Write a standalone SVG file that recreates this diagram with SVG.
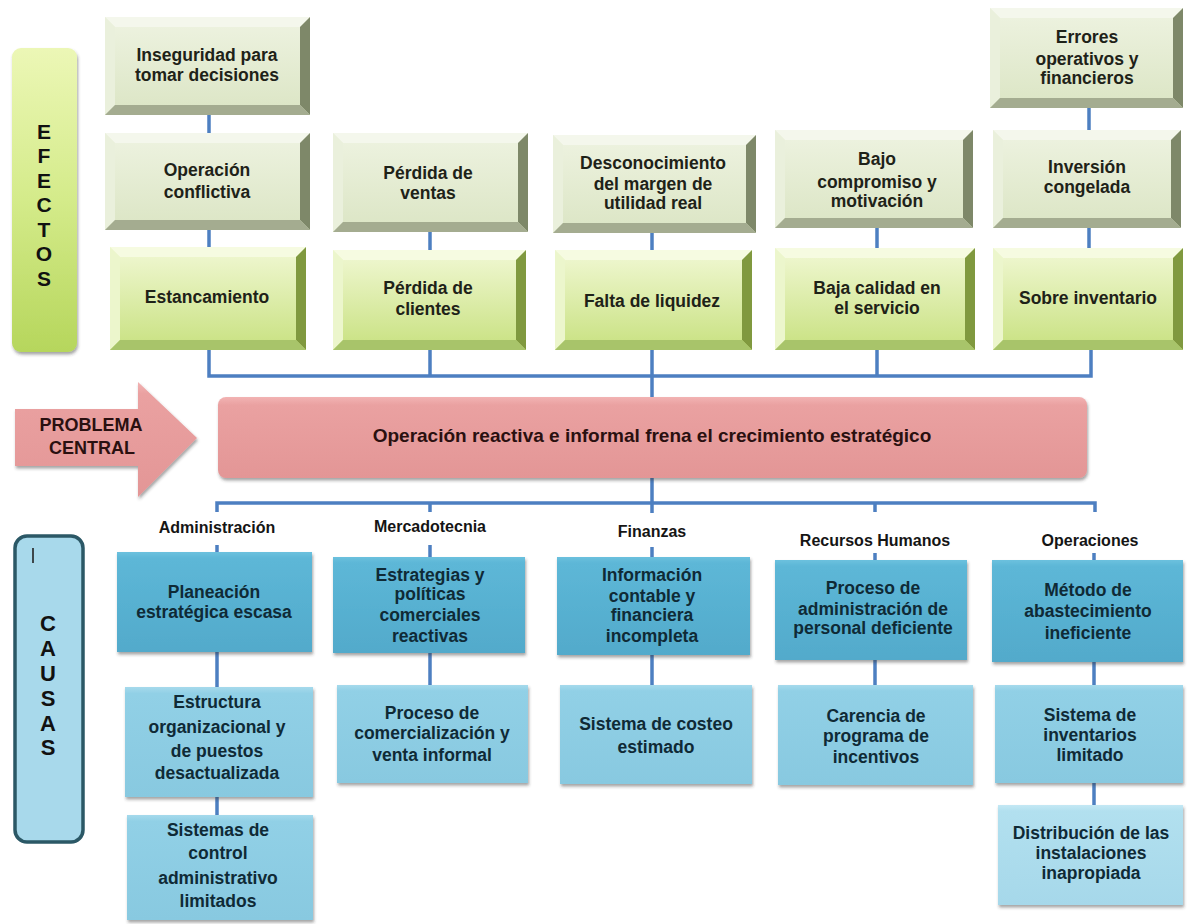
<svg xmlns="http://www.w3.org/2000/svg" width="1187" height="924" viewBox="0 0 1187 924">
<defs>
<linearGradient id="gPale" x1="0" y1="0" x2="0" y2="1"><stop offset="0" stop-color="#eef3e1"/><stop offset="1" stop-color="#dbe5c4"/></linearGradient>
<linearGradient id="gLime" x1="0" y1="0" x2="0" y2="1"><stop offset="0" stop-color="#f1f8d4"/><stop offset="1" stop-color="#c8e180"/></linearGradient>
<linearGradient id="gEfe" x1="0" y1="0" x2="0" y2="1"><stop offset="0" stop-color="#ecf7b6"/><stop offset="0.5" stop-color="#d4eb8a"/><stop offset="1" stop-color="#b6d65c"/></linearGradient>
<linearGradient id="gHead" x1="0" y1="0" x2="0" y2="1"><stop offset="0" stop-color="#6cc1de"/><stop offset="0.06" stop-color="#5db7d7"/><stop offset="1" stop-color="#52aacb"/></linearGradient>
<linearGradient id="gMid" x1="0" y1="0" x2="0" y2="1"><stop offset="0" stop-color="#a6daec"/><stop offset="0.06" stop-color="#91d0e6"/><stop offset="1" stop-color="#88c9e0"/></linearGradient>
<linearGradient id="gLight" x1="0" y1="0" x2="0" y2="1"><stop offset="0" stop-color="#c4e8f4"/><stop offset="0.06" stop-color="#b2e0ef"/><stop offset="1" stop-color="#a6d8ea"/></linearGradient>
<linearGradient id="gPink" x1="0" y1="0" x2="0" y2="1"><stop offset="0" stop-color="#f2b3b3"/><stop offset="0.1" stop-color="#eaa1a1"/><stop offset="1" stop-color="#e39696"/></linearGradient>
<filter id="sh" x="-10%" y="-10%" width="120%" height="130%"><feDropShadow dx="1" dy="2.5" stdDeviation="1.5" flood-color="#333" flood-opacity="0.45"/></filter>
</defs>
<style>
.t{font-family:"Liberation Sans",Arial,Helvetica,sans-serif;font-weight:bold;text-anchor:middle;}
.et{font-size:17.5px;fill:#1e2218;}
.ct{font-size:17.5px;fill:#0f2a36;}
.lb{font-size:16px;fill:#151515;}
.side{font-size:21px;fill:#111;}
.pale .f{fill:url(#gPale);}
.pale .bt{fill:#f4f7ec;}
.pale .bl{fill:#eaf0dc;}
.pale .br{fill:#7e8869;}
.pale .bb{fill:#a4ac90;}
.lime .f{fill:url(#gLime);}
.lime .bt{fill:#f6fbe1;}
.lime .bl{fill:#ecf6cc;}
.lime .br{fill:#80993f;}
.lime .bb{fill:#a8c46a;}
.head{fill:url(#gHead);filter:url(#sh);}
.mid{fill:url(#gMid);filter:url(#sh);}
.light{fill:url(#gLight);filter:url(#sh);}
.con{stroke:#4d7fc1;stroke-width:3.5;fill:none;}
</style>

<!-- side labels -->
<g id="efectos">
<rect x="12" y="48" width="65" height="304" rx="9" fill="url(#gEfe)" filter="url(#sh)"/>
<text class="t side" x="44"><tspan x="44" y="138.5">E</tspan><tspan x="44" y="163">F</tspan><tspan x="44" y="187.5">E</tspan><tspan x="44" y="212">C</tspan><tspan x="44" y="236.5">T</tspan><tspan x="44" y="261">O</tspan><tspan x="44" y="285.5">S</tspan></text>
</g>
<g id="causas">
<rect x="15" y="536" width="68" height="306" rx="12" fill="#a8d9eb" stroke="#2b5866" stroke-width="3.5"/>
<line x1="33" y1="548" x2="33" y2="563" stroke="#222" stroke-width="1.6"/>
<text class="t side" style="font-size:22px" x="48"><tspan x="48" y="631">C</tspan><tspan x="48" y="656">A</tspan><tspan x="48" y="681">U</tspan><tspan x="48" y="706">S</tspan><tspan x="48" y="731">A</tspan><tspan x="48" y="755">S</tspan></text>
</g>

<!-- connectors -->
<g id="connectors">
<path class="con" d="M209,350 V376 H1091 V350"/>
<line class="con" x1="430" y1="350" x2="430" y2="376"/>
<line class="con" x1="652" y1="350" x2="652" y2="397"/>
<line class="con" x1="877" y1="350" x2="877" y2="376"/>
<line class="con" x1="209" y1="115" x2="209" y2="133"/>
<line class="con" x1="209" y1="230" x2="209" y2="247"/>
<line class="con" x1="430" y1="232" x2="430" y2="250"/>
<line class="con" x1="652" y1="233" x2="652" y2="250"/>
<line class="con" x1="877" y1="228" x2="877" y2="248"/>
<line class="con" x1="1089" y1="108" x2="1089" y2="130"/>
<line class="con" x1="1089" y1="228" x2="1089" y2="248"/>
<path class="con" d="M217,512 V503 H1095 V512"/>
<line class="con" x1="430" y1="503" x2="430" y2="512"/>
<line class="con" x1="652" y1="478" x2="652" y2="513"/>
<line class="con" x1="875" y1="503" x2="875" y2="512"/>
<line class="con" x1="217" y1="545" x2="217" y2="552"/>
<line class="con" x1="430" y1="545" x2="430" y2="557"/>
<line class="con" x1="652" y1="547" x2="652" y2="557"/>
<line class="con" x1="875" y1="553" x2="875" y2="560"/>
<line class="con" x1="1094" y1="553" x2="1094" y2="560"/>
<line class="con" x1="217" y1="652" x2="217" y2="687"/>
<line class="con" x1="217" y1="797" x2="217" y2="815"/>
<line class="con" x1="430" y1="653" x2="430" y2="685"/>
<line class="con" x1="652" y1="655" x2="652" y2="685"/>
<line class="con" x1="875" y1="660" x2="875" y2="685"/>
<line class="con" x1="1094" y1="662" x2="1094" y2="685"/>
<line class="con" x1="1094" y1="783" x2="1094" y2="805"/>
</g>

<!-- effects -->
<g id="e1" class="pale">
<rect class="f" x="105" y="17" width="205" height="98"/>
<polygon class="bt" points="105,17 310,17 300,27 115,27"/><polygon class="bl" points="105,17 115,27 115,105 105,115"/><polygon class="br" points="310,17 310,115 300,105 300,27"/><polygon class="bb" points="105,115 310,115 300,105 115,105"/>
<text class="t et"><tspan x="207" y="61">Inseguridad para</tspan><tspan x="207" y="81">tomar decisiones</tspan></text>
</g>
<g id="e2" class="pale">
<rect class="f" x="105" y="133" width="205" height="97"/>
<polygon class="bt" points="105,133 310,133 300,143 115,143"/><polygon class="bl" points="105,133 115,143 115,220 105,230"/><polygon class="br" points="310,133 310,230 300,220 300,143"/><polygon class="bb" points="105,230 310,230 300,220 115,220"/>
<text class="t et"><tspan x="207" y="176">Operación</tspan><tspan x="207" y="198">conflictiva</tspan></text>
</g>
<g id="e3" class="lime">
<rect class="f" x="110" y="247" width="196" height="103"/>
<polygon class="bt" points="110,247 306,247 296,257 120,257"/><polygon class="bl" points="110,247 120,257 120,340 110,350"/><polygon class="br" points="306,247 306,350 296,340 296,257"/><polygon class="bb" points="110,350 306,350 296,340 120,340"/>
<text class="t et"><tspan x="207" y="303">Estancamiento</tspan></text>
</g>
<g id="e4" class="pale">
<rect class="f" x="333" y="133" width="195" height="99"/>
<polygon class="bt" points="333,133 528,133 518,143 343,143"/><polygon class="bl" points="333,133 343,143 343,222 333,232"/><polygon class="br" points="528,133 528,232 518,222 518,143"/><polygon class="bb" points="333,232 528,232 518,222 343,222"/>
<text class="t et"><tspan x="428" y="179">Pérdida de</tspan><tspan x="428" y="199">ventas</tspan></text>
</g>
<g id="e5" class="lime">
<rect class="f" x="333" y="250" width="193" height="100"/>
<polygon class="bt" points="333,250 526,250 516,260 343,260"/><polygon class="bl" points="333,250 343,260 343,340 333,350"/><polygon class="br" points="526,250 526,350 516,340 516,260"/><polygon class="bb" points="333,350 526,350 516,340 343,340"/>
<text class="t et"><tspan x="428" y="294">Pérdida de</tspan><tspan x="428" y="315">clientes</tspan></text>
</g>
<g id="e6" class="pale">
<rect class="f" x="553" y="135" width="203" height="98"/>
<polygon class="bt" points="553,135 756,135 746,145 563,145"/><polygon class="bl" points="553,135 563,145 563,223 553,233"/><polygon class="br" points="756,135 756,233 746,223 746,145"/><polygon class="bb" points="553,233 756,233 746,223 563,223"/>
<text class="t et"><tspan x="653" y="169">Desconocimiento</tspan><tspan x="653" y="190">del margen de</tspan><tspan x="653" y="209">utilidad real</tspan></text>
</g>
<g id="e7" class="lime">
<rect class="f" x="555" y="250" width="197" height="100"/>
<polygon class="bt" points="555,250 752,250 742,260 565,260"/><polygon class="bl" points="555,250 565,260 565,340 555,350"/><polygon class="br" points="752,250 752,350 742,340 742,260"/><polygon class="bb" points="555,350 752,350 742,340 565,340"/>
<text class="t et"><tspan x="652" y="307">Falta de liquidez</tspan></text>
</g>
<g id="e8" class="pale">
<rect class="f" x="775" y="130" width="198" height="98"/>
<polygon class="bt" points="775,130 973,130 963,140 785,140"/><polygon class="bl" points="775,130 785,140 785,218 775,228"/><polygon class="br" points="973,130 973,228 963,218 963,140"/><polygon class="bb" points="775,228 973,228 963,218 785,218"/>
<text class="t et"><tspan x="877" y="165">Bajo</tspan><tspan x="877" y="188">compromiso y</tspan><tspan x="877" y="207">motivación</tspan></text>
</g>
<g id="e9" class="lime">
<rect class="f" x="775" y="248" width="200" height="102"/>
<polygon class="bt" points="775,248 975,248 965,258 785,258"/><polygon class="bl" points="775,248 785,258 785,340 775,350"/><polygon class="br" points="975,248 975,350 965,340 965,258"/><polygon class="bb" points="775,350 975,350 965,340 785,340"/>
<text class="t et"><tspan x="877" y="294">Baja calidad en</tspan><tspan x="877" y="314">el servicio</tspan></text>
</g>
<g id="e10" class="pale">
<rect class="f" x="990" y="8" width="193" height="100"/>
<polygon class="bt" points="990,8 1183,8 1173,18 1000,18"/><polygon class="bl" points="990,8 1000,18 1000,98 990,108"/><polygon class="br" points="1183,8 1183,108 1173,98 1173,18"/><polygon class="bb" points="990,108 1183,108 1173,98 1000,98"/>
<text class="t et"><tspan x="1087" y="43">Errores</tspan><tspan x="1087" y="65">operativos y</tspan><tspan x="1087" y="84">financieros</tspan></text>
</g>
<g id="e11" class="pale">
<rect class="f" x="993" y="130" width="188" height="98"/>
<polygon class="bt" points="993,130 1181,130 1171,140 1003,140"/><polygon class="bl" points="993,130 1003,140 1003,218 993,228"/><polygon class="br" points="1181,130 1181,228 1171,218 1171,140"/><polygon class="bb" points="993,228 1181,228 1171,218 1003,218"/>
<text class="t et"><tspan x="1087" y="173">Inversión</tspan><tspan x="1087" y="193">congelada</tspan></text>
</g>
<g id="e12" class="lime">
<rect class="f" x="993" y="248" width="190" height="102"/>
<polygon class="bt" points="993,248 1183,248 1173,258 1003,258"/><polygon class="bl" points="993,248 1003,258 1003,340 993,350"/><polygon class="br" points="1183,248 1183,350 1173,340 1173,258"/><polygon class="bb" points="993,350 1183,350 1173,340 1003,340"/>
<text class="t et"><tspan x="1088" y="304">Sobre inventario</tspan></text>
</g>

<!-- central problem -->
<g id="arrow">
<polygon points="15,409 138,409 138,382 197,438 138,497 138,466 15,466" fill="url(#gPink)" filter="url(#sh)"/>
<text class="t" style="font-size:18px;fill:#2a1010"><tspan x="91" y="431">PROBLEMA</tspan><tspan x="92" y="454">CENTRAL</tspan></text>
</g>
<g id="problema">
<rect x="218" y="397" width="869" height="81" rx="8" fill="url(#gPink)" filter="url(#sh)"/>
<text class="t" style="font-size:19px;fill:#2a1010" x="652" y="442">Operación reactiva e informal frena el crecimiento estratégico</text>
</g>

<!-- area labels -->
<g id="labels">
<text class="t lb" x="217" y="533">Administración</text>
<text class="t lb" x="430" y="532">Mercadotecnia</text>
<text class="t lb" x="652" y="537">Finanzas</text>
<text class="t lb" x="875" y="546">Recursos Humanos</text>
<text class="t lb" x="1090" y="546">Operaciones</text>
</g>

<!-- causes -->
<g id="c1"><rect class="head" x="117" y="552" width="195" height="100"/>
<text class="t ct"><tspan x="214" y="598">Planeación</tspan><tspan x="214" y="618">estratégica escasa</tspan></text></g>
<g id="c2"><rect class="mid" x="125" y="687" width="188" height="110"/>
<text class="t ct"><tspan x="217" y="708">Estructura</tspan><tspan x="217" y="733">organizacional y</tspan><tspan x="217" y="757">de puestos</tspan><tspan x="217" y="779">desactualizada</tspan></text></g>
<g id="c3"><rect class="mid" x="127" y="815" width="186" height="105"/>
<text class="t ct"><tspan x="218" y="836">Sistemas de</tspan><tspan x="218" y="859">control</tspan><tspan x="218" y="884">administrativo</tspan><tspan x="218" y="907">limitados</tspan></text></g>
<g id="c4"><rect class="head" x="333" y="557" width="192" height="96"/>
<text class="t ct"><tspan x="430" y="581">Estrategias y</tspan><tspan x="430" y="600">políticas</tspan><tspan x="430" y="621">comerciales</tspan><tspan x="430" y="642">reactivas</tspan></text></g>
<g id="c5"><rect class="mid" x="337" y="685" width="191" height="98"/>
<text class="t ct"><tspan x="432" y="719">Proceso de</tspan><tspan x="432" y="739">comercialización y</tspan><tspan x="432" y="761">venta informal</tspan></text></g>
<g id="c6"><rect class="head" x="557" y="557" width="193" height="98"/>
<text class="t ct"><tspan x="652" y="581">Información</tspan><tspan x="652" y="602">contable y</tspan><tspan x="652" y="621">financiera</tspan><tspan x="652" y="642">incompleta</tspan></text></g>
<g id="c7"><rect class="mid" x="560" y="685" width="192" height="99"/>
<text class="t ct"><tspan x="656" y="730">Sistema de costeo</tspan><tspan x="656" y="753">estimado</tspan></text></g>
<g id="c8"><rect class="head" x="775" y="560" width="192" height="100"/>
<text class="t ct"><tspan x="873" y="594">Proceso de</tspan><tspan x="873" y="615">administración de</tspan><tspan x="873" y="634">personal deficiente</tspan></text></g>
<g id="c9"><rect class="mid" x="778" y="685" width="195" height="100"/>
<text class="t ct"><tspan x="876" y="722">Carencia de</tspan><tspan x="876" y="742">programa de</tspan><tspan x="876" y="763">incentivos</tspan></text></g>
<g id="c10"><rect class="head" x="992" y="560" width="191" height="102"/>
<text class="t ct"><tspan x="1088" y="596">Método de</tspan><tspan x="1088" y="617">abastecimiento</tspan><tspan x="1088" y="639">ineficiente</tspan></text></g>
<g id="c11"><rect class="mid" x="995" y="685" width="188" height="98"/>
<text class="t ct"><tspan x="1090" y="721">Sistema de</tspan><tspan x="1090" y="741">inventarios</tspan><tspan x="1090" y="761">limitado</tspan></text></g>
<g id="c12"><rect class="light" x="998" y="805" width="185" height="100"/>
<text class="t ct"><tspan x="1091" y="839">Distribución de las</tspan><tspan x="1091" y="859">instalaciones</tspan><tspan x="1091" y="879">inapropiada</tspan></text></g>
</svg>
